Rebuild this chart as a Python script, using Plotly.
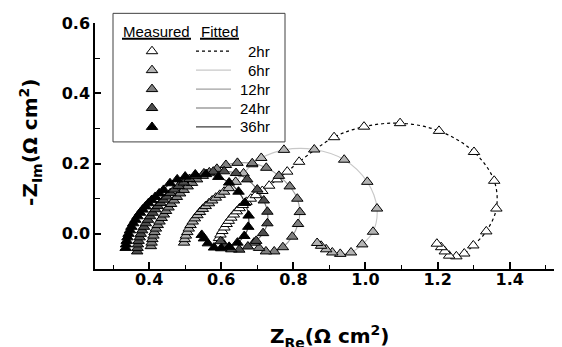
import plotly.graph_objects as go

# ---------------- data ----------------
series_names = ["2hr", "6hr", "12hr", "24hr", "36hr"]

x_2hr = [0.594, 0.598, 0.603, 0.609, 0.615, 0.621, 0.628, 0.635, 0.643, 0.651, 0.660, 0.670,
         0.682, 0.696, 0.714, 0.733, 0.755, 0.783, 0.816, 0.913, 0.996, 1.096, 1.204, 1.301,
         1.357, 1.363, 1.335, 1.299, 1.274, 1.252, 1.232, 1.220, 1.210, 1.198]
y_2hr = [-0.012, -0.002, 0.008, 0.018, 0.028, 0.037, 0.046, 0.055, 0.064, 0.073, 0.082, 0.091,
         0.100, 0.110, 0.122, 0.137, 0.155, 0.177, 0.205, 0.275, 0.305, 0.315, 0.293, 0.233,
         0.151, 0.072, 0.007, -0.033, -0.056, -0.064, -0.062, -0.050, -0.038, -0.028]

x_6hr = [0.497, 0.499, 0.502, 0.506, 0.510, 0.515, 0.521, 0.527, 0.534, 0.541, 0.549, 0.557,
         0.566, 0.575, 0.585, 0.596, 0.608, 0.621, 0.640, 0.662, 0.686, 0.711, 0.774, 0.858,
         0.941, 1.005, 1.032, 1.021, 0.991, 0.960, 0.930, 0.908, 0.891, 0.877, 0.866]
y_6hr = [-0.025, -0.015, -0.005, 0.005, 0.015, 0.025, 0.035, 0.044, 0.053, 0.062, 0.071, 0.079,
         0.087, 0.095, 0.103, 0.111, 0.120, 0.130, 0.148, 0.172, 0.198, 0.216, 0.239, 0.240,
         0.211, 0.148, 0.072, 0.006, -0.030, -0.053, -0.057, -0.053, -0.044, -0.034, -0.026]

x_12hr = [0.405, 0.407, 0.409, 0.412, 0.415, 0.419, 0.424, 0.429, 0.435, 0.441, 0.447, 0.454,
          0.461, 0.469, 0.477, 0.486, 0.496, 0.507, 0.519, 0.533, 0.549, 0.567, 0.588, 0.613,
          0.645, 0.686, 0.725, 0.760, 0.790, 0.811, 0.818, 0.813, 0.797, 0.771, 0.747, 0.724,
          0.705, 0.691]
y_12hr = [-0.035, -0.025, -0.015, -0.005, 0.005, 0.015, 0.025, 0.035, 0.045, 0.055, 0.065, 0.075,
          0.085, 0.095, 0.105, 0.115, 0.125, 0.135, 0.145, 0.155, 0.165, 0.175, 0.185, 0.196,
          0.202, 0.201, 0.188, 0.165, 0.135, 0.100, 0.062, 0.028, -0.008, -0.038, -0.050, -0.050,
          -0.040, -0.025]

x_24hr = [0.367, 0.368, 0.369, 0.371, 0.374, 0.377, 0.381, 0.386, 0.391, 0.397, 0.403, 0.410,
          0.417, 0.424, 0.432, 0.440, 0.449, 0.459, 0.470, 0.482, 0.496, 0.512, 0.530, 0.552,
          0.578, 0.608, 0.641, 0.672, 0.700, 0.718, 0.728, 0.728, 0.716, 0.697, 0.674, 0.650,
          0.628, 0.610, 0.598]
y_24hr = [-0.050, -0.040, -0.030, -0.020, -0.010, 0.000, 0.010, 0.020, 0.030, 0.040, 0.050, 0.060,
          0.070, 0.079, 0.088, 0.097, 0.106, 0.116, 0.126, 0.136, 0.146, 0.156, 0.165, 0.172,
          0.177, 0.178, 0.173, 0.155, 0.126, 0.095, 0.063, 0.030, 0.002, -0.020, -0.036, -0.045,
          -0.044, -0.034, -0.021]

x_36hr = [0.335, 0.336, 0.338, 0.340, 0.343, 0.347, 0.351, 0.356, 0.362, 0.368, 0.375, 0.382,
          0.390, 0.398, 0.407, 0.417, 0.428, 0.440, 0.458, 0.478, 0.500, 0.528, 0.558, 0.592,
          0.622, 0.648, 0.666, 0.676, 0.675, 0.664, 0.645, 0.622, 0.600, 0.580, 0.563, 0.552,
          0.546]
y_36hr = [-0.040, -0.030, -0.020, -0.010, 0.000, 0.010, 0.020, 0.030, 0.040, 0.050, 0.060, 0.069,
          0.078, 0.087, 0.096, 0.105, 0.115, 0.125, 0.144, 0.155, 0.163, 0.169, 0.170, 0.162,
          0.146, 0.120, 0.088, 0.052, 0.020, -0.006, -0.025, -0.037, -0.041, -0.039, -0.027, -0.013,
          -0.003]

xs = [x_2hr, x_6hr, x_12hr, x_24hr, x_36hr]
ys = [y_2hr, y_6hr, y_12hr, y_24hr, y_36hr]

x_ticks = [0.4, 0.6, 0.8, 1.0, 1.2, 1.4]
y_ticks = [0.0, 0.2, 0.4, 0.6]

# ---------------- styles ----------------
marker_fill = ["#ffffff", "#b4b4b4", "#808080", "#4d4d4d", "#000000"]
line_color = ["#000000", "#c8c8c8", "#a0a0a0", "#6e6e6e", "#3c3c3c"]
line_dash = ["dot", "solid", "solid", "solid", "solid"]

OFF = 8  # page body margin
W, H = 562 - OFF, 347 - OFF
# plot area in screen pixels: x 95..562, y 22.7..269.5
L, T = 95 - OFF, 22.7 - OFF
R = 0
B = H - (269.5 - OFF)
PW, PH = W - L - R, H - T - B


def pxx(p):
    """screen pixel x -> paper"""
    return (p - OFF - L) / PW


def pxy(p):
    """screen pixel y -> paper"""
    return (H - B - (p - OFF)) / PH


fig = go.Figure()

# fitted lines
for i, n in enumerate(series_names):
    fig.add_trace(go.Scatter(
        x=xs[i], y=ys[i], mode="lines",
        line=dict(color=line_color[i], width=1.2 if i == 0 else 1.1, dash=line_dash[i], shape="spline"),
        hoverinfo="skip", showlegend=False))

# measured points
for i, n in enumerate(series_names):
    fig.add_trace(go.Scatter(
        x=xs[i], y=ys[i], mode="markers", name=n,
        marker=dict(symbol="triangle-up", size=10, color=marker_fill[i],
                    line=dict(color="#000000", width=1)),
        showlegend=False))

# ---------------- hand-built legend ----------------
box = dict(x0=113, x1=285, y0=13, y1=142)
row_y = [51, 70, 89, 108, 127]
mk_x, ln_x0, ln_x1, lab_x = 152, 196, 231, 272

shapes = [dict(type="rect", xref="paper", yref="paper",
               x0=pxx(box["x0"]), x1=pxx(box["x1"]), y0=pxy(box["y1"]), y1=pxy(box["y0"]),
               line=dict(color="#404040", width=1), fillcolor="white", layer="below")]
# header underlines
for a, b in [(122, 191), (200, 239)]:
    shapes.append(dict(type="line", xref="paper", yref="paper",
                       x0=pxx(a), x1=pxx(b), y0=pxy(38.5), y1=pxy(38.5),
                       line=dict(color="black", width=2)))
legend_font = dict(family="Liberation Sans, Arial", size=15, color="black")
annotations = [
    dict(text="Measured", x=pxx(121), y=pxy(31), xref="paper", yref="paper",
         xanchor="left", yanchor="middle", showarrow=False, font=legend_font),
    dict(text="Fitted", x=pxx(199), y=pxy(31), xref="paper", yref="paper",
         xanchor="left", yanchor="middle", showarrow=False, font=legend_font),
]
for i, n in enumerate(series_names):
    shapes.append(dict(type="line", xref="paper", yref="paper",
                       x0=pxx(ln_x0), x1=pxx(ln_x1), y0=pxy(row_y[i]), y1=pxy(row_y[i]),
                       line=dict(color=line_color[i], width=1.2, dash=line_dash[i])))
    annotations.append(dict(text=n, x=pxx(lab_x), y=pxy(row_y[i]), xref="paper", yref="paper",
                            xanchor="right", yanchor="middle", showarrow=False, font=legend_font))
    fig.add_trace(go.Scatter(
        x=[pxx(mk_x)], y=[pxy(row_y[i])], xaxis="x2", yaxis="y2", mode="markers",
        marker=dict(symbol="triangle-up", size=10, color=marker_fill[i],
                    line=dict(color="#000000", width=1)),
        hoverinfo="skip", showlegend=False, cliponaxis=False))

# axis titles
title_font = dict(family="DejaVu Sans", size=20, color="black")
annotations.append(dict(text="<b>Z<sub>Re</sub>(Ω cm<sup>2</sup>)</b>", x=pxx(330), y=pxy(337),
                        xref="paper", yref="paper", xanchor="center", yanchor="middle",
                        showarrow=False, font=title_font))
annotations.append(dict(text="<b>-Z<sub>Im</sub>(Ω cm<sup>2</sup>)</b>", x=pxx(31), y=pxy(143),
                        xref="paper", yref="paper", xanchor="center", yanchor="middle",
                        textangle=-90, showarrow=False, font=title_font))

tick_font = dict(family="DejaVu Sans", size=16, color="black", weight="bold")

fig.update_layout(
    width=W, height=H, margin=dict(l=L, r=R, t=T, b=B, pad=0),
    plot_bgcolor="white", paper_bgcolor="white", showlegend=False,
    shapes=shapes, annotations=annotations,
    xaxis=dict(range=[0.25, 1.545], tickvals=x_ticks, ticktext=[f"{v:.1f}" for v in x_ticks],
               ticks="inside", ticklen=7, tickwidth=1.5, tickcolor="black",
               minor=dict(dtick=0.1, tick0=0.0, ticks="inside", ticklen=4, tickwidth=1.2, tickcolor="black"),
               showline=True, linewidth=1.5, linecolor="black", showgrid=False, zeroline=False,
               tickfont=tick_font, ticklabelstandoff=-5),
    yaxis=dict(range=[-0.1, 0.6], tickvals=y_ticks, ticktext=[f"{v:.1f}" for v in y_ticks],
               ticks="inside", ticklen=6, tickwidth=1.5, tickcolor="black",
               minor=dict(dtick=0.1, tick0=0.0, ticks="inside", ticklen=5, tickwidth=1.2, tickcolor="black"),
               showline=True, linewidth=1.5, linecolor="black", showgrid=False, zeroline=False,
               tickfont=tick_font, ticklabelstandoff=0),
    xaxis2=dict(overlaying="x", range=[0, 1], visible=False, fixedrange=True),
    yaxis2=dict(overlaying="y", range=[0, 1], visible=False, fixedrange=True),
)

fig.write_html("out.html")
